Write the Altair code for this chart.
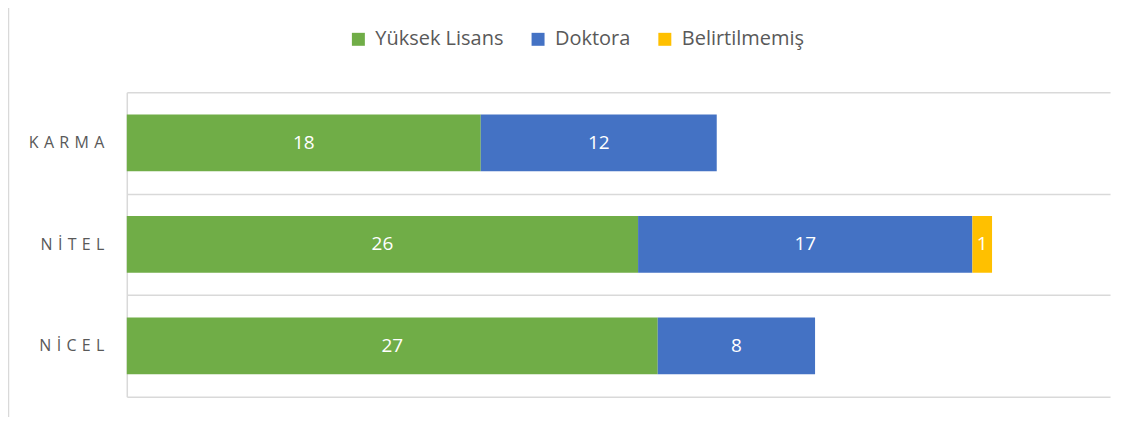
import altair as alt
import pandas as pd

categories = ["KARMA", "NİTEL", "NİCEL"]
series = ["Yüksek Lisans", "Doktora", "Belirtilmemiş"]
yuksek_lisans = [18, 26, 27]
doktora = [12, 17, 8]
belirtilmemis = [0, 1, 0]
colors = ["#70AD47", "#4472C4", "#FFC000"]

SP = "\u2004"
def spaced(s):
    return SP.join(list(s))

labels = [spaced(c) for c in categories]

rows = []
for i, c in enumerate(labels):
    for j, (s, vals) in enumerate(zip(series, [yuksek_lisans, doktora, belirtilmemis])):
        rows.append({"cat": c, "series": s, "order": j, "value": vals[i]})
df = pd.DataFrame(rows)

FONT = "Open Sans"
W, H = 985, 305

base = alt.Chart(df).transform_stack(
    stack="value", groupby=["cat"], as_=["x0", "x1"], sort=[alt.SortField("order")]
).transform_calculate(mid="(datum.x0 + datum.x1) / 2")

yscale = alt.Scale(paddingInner=0, paddingOuter=0)

yenc = alt.Y(
    "cat:N",
    sort=labels,
    title=None,
    scale=yscale,
    axis=alt.Axis(
        tickBand="extent",
        ticks=False,
        grid=True,
        gridColor="#d9d9d9",
        gridWidth=1.5,
        domainColor="#d9d9d9",
        domainWidth=1.5,
        labelColor="#595959",
        labelFont=FONT,
        labelFontSize=16,
        labelPadding=23,
    ),
)

xscale = alt.Scale(domain=[0, 50])

bars = base.mark_bar(height=alt.RelativeBandSize(0.56)).encode(
    y=yenc,
    x=alt.X("x0:Q", scale=xscale, axis=None),
    x2="x1:Q",
    color=alt.Color(
        "series:N",
        sort=series,
        scale=alt.Scale(domain=series, range=colors),
        legend=alt.Legend(
            title=None,
            orient="none",
            direction="horizontal",
            legendX=222,
            legendY=-63,
            symbolType="square",
            symbolSize=169,
            symbolStrokeWidth=0,
            labelFont=FONT,
            labelFontSize=20,
            labelColor="#595959",
            labelOffset=7,
            columnPadding=24,
            padding=0,
        ),
    ),
)

text = base.mark_text(color="white", font=FONT, fontSize=19, baseline="middle").encode(
    y=alt.Y("cat:N", sort=labels, scale=yscale),
    x=alt.X("mid:Q", scale=xscale),
    text="value:Q",
).transform_filter("datum.value > 0")

frame = alt.Chart(pd.DataFrame({"a": [0]})).mark_rule(color="#d9d9d9", strokeWidth=1.5).encode(
    x=alt.value(-118.5), y=alt.value(-92), y2=alt.value(H + 30)
)

chart = alt.layer(bars, text, frame).properties(
    width=W, height=H,
    background="white",
    padding={"left": 119, "top": 84, "right": 20, "bottom": 20},
    autosize=alt.AutoSizeParams(type="none"),
).configure_view(strokeWidth=0, stroke="transparent")

chart.save("out.html", embed_options={"renderer": "svg", "actions": False})
